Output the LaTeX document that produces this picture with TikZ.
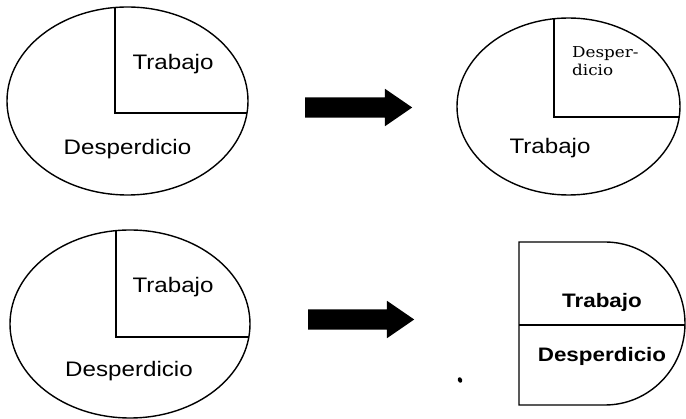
\documentclass[tikz,border=0pt]{standalone}
\usepackage{fontspec}
\setmainfont{Liberation Sans}[FakeStretch=1.15]
\newfontfamily\notefont{DejaVu Serif}[FakeStretch=1.12]
\usetikzlibrary{positioning,shapes.geometric,shapes.arrows}
\tikzset{
  pie/.style   ={draw,ellipse,line width=1.4pt,inner sep=0pt},
  cut/.style   ={line width=1.4pt},
  lbl/.style   ={font=\fontsize{21}{25}\selectfont,inner sep=0pt,anchor=base},
  blbl/.style  ={font=\fontsize{19.5}{23}\selectfont\bfseries,inner sep=0pt,anchor=base},
  note/.style  ={font=\fontsize{15}{18.5}\selectfont\notefont,inner sep=0pt,
                 align=left,anchor=base west},
  bigar/.style ={single arrow,fill=black,inner sep=10pt,anchor=tail,
                 single arrow head extend=8.5pt,single arrow tip angle=69},
  dot/.style   ={ellipse,fill=black,inner xsep=1.5pt,inner ysep=2pt,rotate=20},
}
\begin{document}
\begin{tikzpicture}[x=1pt,y=-1pt]
  \useasboundingbox (0,0) rectangle (686,419);
  % top row: before
  \node[pie,minimum width=241pt,minimum height=188pt] (pieA) at (127.5,101) {};
  \coordinate (cA) at (115,113);
  \coordinate (tA) at (115,7.5);
  \coordinate (rA) at (247,113);
  \draw[cut] (tA) -- (cA) -- (rA);
  \node[lbl] (workA) at (173,70) {Trabajo};
  \node[lbl] (wasteA) at (127.5,154.5) {Desperdicio};
  % top row: arrow and after
  \node[bigar,minimum height=107pt] (arA) at (305,107.5) {};
  \node[pie,minimum width=223pt,minimum height=177pt] (pieB) at (568.5,106.5) {};
  \coordinate (cB) at (554,117);
  \coordinate (tB) at (554,18.8);
  \coordinate (rB) at (679.2,117);
  \draw[cut] (tB) -- (cB) -- (rB);
  \node[note] (wasteB) at (572,75.7) {Desper-\\dicio};
  \node[lbl] (workB) at (550,154) {Trabajo};
  % bottom row: before
  \node[pie,minimum width=240pt,minimum height=188pt] (pieC) at (130,324) {};
  \coordinate (cC) at (116,337);
  \coordinate (tC) at (116,230.6);
  \coordinate (rC) at (248.9,337);
  \draw[cut] (tC) -- (cC) -- (rC);
  \node[lbl] (workC) at (173,293) {Trabajo};
  \node[lbl] (wasteC) at (129,377) {Desperdicio};
  % bottom row: arrow and after
  \node[bigar,minimum height=106pt] (arB) at (308,319.5) {};
  \coordinate (dNW) at (519,242);
  \coordinate (dN) at (605,242);
  \coordinate (dS) at (605,405);
  \coordinate (dSW) at (519,405);
  \coordinate (dL) at (519,325);
  \coordinate (dR) at (685,325);
  \draw[cut] (dNW) -- (dN) arc[start angle=-90,end angle=90,x radius=80,y radius=81.5]
    -- (dSW) -- cycle;
  \draw[cut] (dL) -- (dR);
  \node[blbl] (workD) at (602,308) {Trabajo};
  \node[blbl] (wasteD) at (602,362) {Desperdicio};
  \node[dot] (speck) at (460,380) {};
\end{tikzpicture}
\end{document}
